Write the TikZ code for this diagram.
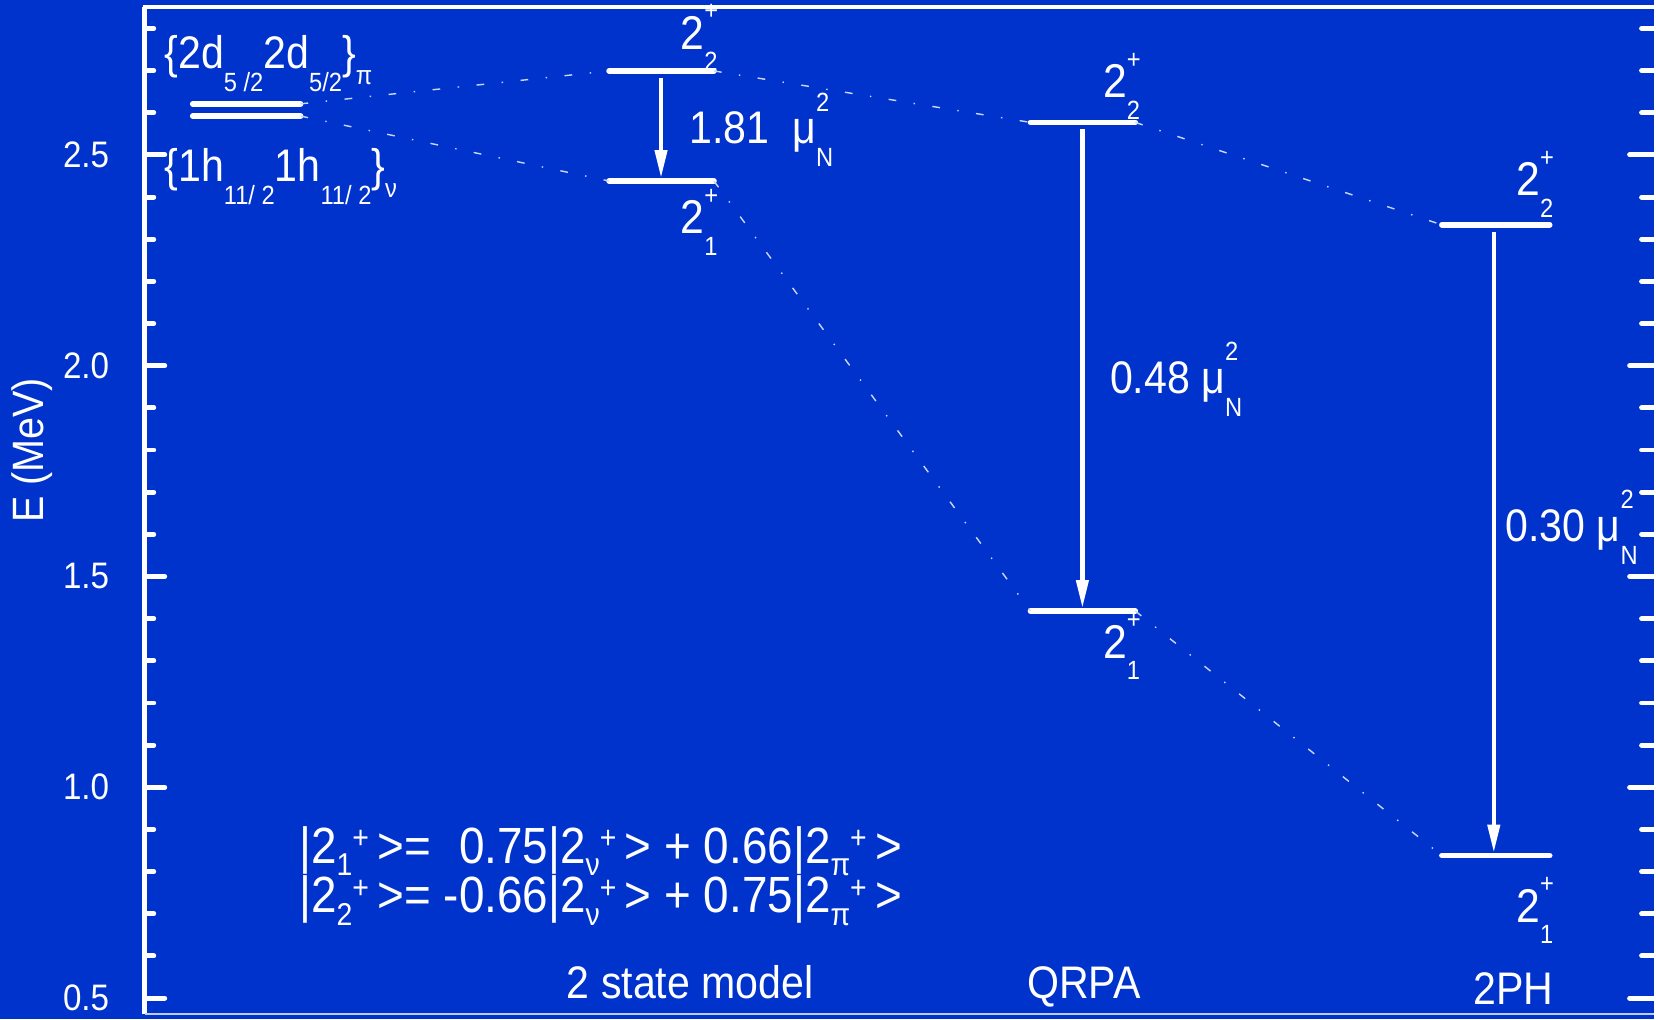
\documentclass[tikz,border=0pt]{standalone}
\usepackage{fontspec}
\setmainfont{Liberation Sans}[FakeStretch=0.9]
\usepackage{tikz}
\usetikzlibrary{arrows.meta, positioning}
\definecolor{slideblue}{RGB}{0, 51, 204}

\newcommand{\lvsmall}{\fontsize{7.5}{9}\selectfont}
\newcommand{\eqsmall}{\fontsize{9}{10}\selectfont}
\newcommand{\spinlab}[1]{2\makebox[0pt][l]{\raisebox{0.62em}{\lvsmall +}}\raisebox{-0.45em}{\lvsmall #1}}
\newcommand{\musq}{μ\makebox[0pt][l]{\raisebox{0.72em}{\lvsmall 2}}\raisebox{-0.5em}{\lvsmall N}}
\newcommand{\ketlab}[1]{|2\raisebox{-0.25em}{\eqsmall #1}\raisebox{0.28em}{\eqsmall +}\,>}

\begin{document}
\begin{tikzpicture}[x=0.01cm, y=4.22cm,
  axis/.style={white, line width=1.4pt, line cap=round},
  level/.style={white, line width=1.6pt, line cap=round},
  trans/.style={white, line width=1.2pt, shorten >=0.8pt,
                -{Triangle[length=8pt, width=3.4pt]}},
  corr/.style={white!80!slideblue, line width=0.4pt,
               dash pattern=on 2.2pt off 5pt on 0.4pt off 5pt},
  lab/.style={text=white, inner sep=0pt, font=\fontsize{13}{15}\selectfont},
  ticklab/.style={text=white, inner sep=0pt, font=\fontsize{10.5}{12}\selectfont}
]

% background and frame
\fill[slideblue] (0,0.4502) rectangle (1656,2.8673);
\draw[axis, line cap=butt] (143,2.8507) -- (1656,2.8507);
\draw[axis, line cap=butt] (145,2.8507) -- (145,0.4621);
\draw[white!75!slideblue, line width=0.5pt] (145,0.4621) -- (1656,0.4621);

% ticks
\foreach \e in {0.6,0.7,...,2.85} {
  \draw[axis] (145,\e) -- ++(9,0);
  \draw[axis] (1656,\e) -- ++(-12,0);
}
\foreach \e in {0.5,1.0,1.5,2.0,2.5} {
  \draw[axis] (145,\e) -- ++(20,0);
  \draw[axis] (1656,\e) -- ++(-24,0);
  \node[ticklab, anchor=east] at (110,\e) {\e};
}
\node[lab, rotate=90, font=\fontsize{12.5}{14}\selectfont] (elab) at (32,1.799) {E (MeV)};

% levels
\coordinate (dpiL) at (193,2.621);  \coordinate (dpiR) at (301,2.621);
\coordinate (dnuL) at (193,2.592);  \coordinate (dnuR) at (301,2.592);
\coordinate (ts2L) at (610,2.699);  \coordinate (ts2R) at (715,2.699);
\coordinate (ts1L) at (610,2.438);  \coordinate (ts1R) at (715,2.438);
\coordinate (rpa2L) at (1032,2.577); \coordinate (rpa2R) at (1137,2.577);
\coordinate (rpa1L) at (1032,1.418); \coordinate (rpa1R) at (1137,1.418);
\coordinate (ph2L) at (1444,2.334); \coordinate (ph2R) at (1552,2.334);
\coordinate (ph1L) at (1444,0.838); \coordinate (ph1R) at (1552,0.838);
\coordinate (ts2) at (662,2.699);   \coordinate (ts1) at (662,2.438);
\coordinate (rpa2) at (1084,2.577); \coordinate (rpa1) at (1084,1.418);
\coordinate (ph2) at (1496,2.334);  \coordinate (ph1) at (1496,0.838);

\foreach \a/\b in {dpiL/dpiR, dnuL/dnuR, ts2L/ts2R, ts1L/ts1R,
                   rpa2L/rpa2R, rpa1L/rpa1R, ph2L/ph2R, ph1L/ph1R}
  \draw[level] (\a) -- (\b);

% correlation lines
\draw[corr] (dpiR) -- (ts2L);
\draw[corr] (dnuR) -- (ts1L);
\draw[corr] (ts2R) -- (rpa2L);
\draw[corr] (ts1R) -- (rpa1L);
\draw[corr] (rpa2R) -- (ph2L);
\draw[corr] (rpa1R) -- (ph1L);

% B(E2) transitions
\draw[trans] ([yshift=-2pt]ts2) -- (ts1);
\draw[trans] ([yshift=-2pt]rpa2) -- (rpa1);
\draw[trans] ([yshift=-2pt]ph2) -- (ph1);

% labels
\node[lab, anchor=base west] (pilab) at (164,2.705)
  {\{2d\raisebox{-0.5em}{\lvsmall 5 /2}2d\raisebox{-0.5em}{\lvsmall 5/2}\}\raisebox{-0.35em}{\lvsmall π}};
\node[lab, anchor=base west] (nulab) at (164,2.437)
  {\{1h\raisebox{-0.5em}{\lvsmall 11/ 2}1h\raisebox{-0.5em}{\lvsmall 11/ 2}\}\raisebox{-0.35em}{\lvsmall ν}};

\node[lab, anchor=base west, font=\fontsize{13.5}{15}\selectfont] (ts2lab) at (681,2.751) {\spinlab{2}};
\node[lab, anchor=base west, font=\fontsize{13.5}{15}\selectfont] (ts1lab) at (681,2.313) {\spinlab{1}};
\node[lab, anchor=base west, font=\fontsize{13.5}{15}\selectfont] (rpa2lab) at (1104,2.635) {\spinlab{2}};
\node[lab, anchor=base west, font=\fontsize{13.5}{15}\selectfont] (rpa1lab) at (1104,1.306) {\spinlab{1}};
\node[lab, anchor=base west, font=\fontsize{13.5}{15}\selectfont] (ph2lab) at (1518,2.403) {\spinlab{2}};
\node[lab, anchor=base west, font=\fontsize{13.5}{15}\selectfont] (ph1lab) at (1518,0.680) {\spinlab{1}};

\node[lab, anchor=base west] (tsbe) at (690,2.526) {1.81 \ \musq};
\node[lab, anchor=base west] (rpabe) at (1111,1.934) {0.48 \musq};
\node[lab, anchor=base west] (phbe) at (1507,1.583) {0.30 \musq};

\node[lab, anchor=base west, font=\fontsize{14.5}{16}\selectfont,
      text height=1.2ex, text depth=0pt] (wf1) at (299,0.820)
  {\ketlab{1}= \phantom{-}0.75\ketlab{ν} + 0.66\ketlab{π}};
\node[lab, anchor=base west, font=\fontsize{14.5}{16}\selectfont,
      text height=1.2ex, text depth=0pt] (wf2) at (299,0.7026)
  {\ketlab{2}= -0.66\ketlab{ν} + 0.75\ketlab{π}};

\node[lab, anchor=base west] (tsname) at (567,0.500) {2 state model};
\node[lab, anchor=base west] (rpaname) at (1028,0.500) {QRPA};
\node[lab, anchor=base west] (phname) at (1475,0.4858) {2PH};

\end{tikzpicture}
\end{document}
